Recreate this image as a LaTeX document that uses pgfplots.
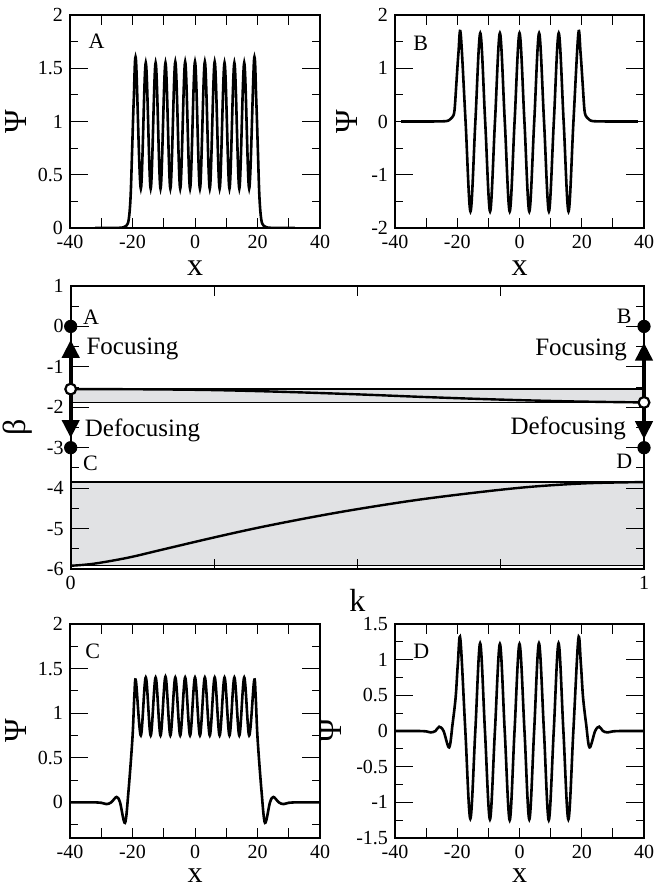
\documentclass[border=0pt]{standalone}
\usepackage{fontspec}
\setmainfont{Liberation Serif}
\usepackage{pgfplots}
\pgfplotsset{compat=1.18}
\usetikzlibrary{arrows.meta}
\definecolor{band}{HTML}{E1E2E4}

\pgfplotsset{
  frame/.style={scale only axis, anchor=south west,
    axis line style={line width=1pt},
    every tick/.style={black, line width=0.5pt},
    major tick length=9pt, minor tick length=4pt,
    xtick style={/pgfplots/major tick length=5pt},
    tick label style={font=\fontsize{10}{11}\selectfont},
    label style={font=\fontsize{16}{18}\selectfont, inner sep=0pt},
    minor y tick num=1,
  },
  panel/.style={frame, width=125pt, height=106.5pt, xmin=-40, xmax=40,
    xtick={-40,-30,...,40}, xticklabels={-40,,-20,,0,,20,,40},
    xlabel={x}, ylabel={Ψ},
    xlabel style={at={(axis description cs:0.5,-0.188)}, anchor=center},
  },
  bottomx/.style={xlabel style={at={(axis description cs:0.5,-0.178)},
    font=\fontsize{15}{16}\selectfont}},
  curve/.style={black, line width=1.3pt, smooth, tension=0.55, no markers},
}
\tikzset{tag/.style={font=\fontsize{11}{12}\selectfont, anchor=west, inner sep=0pt},
  note/.style={font=\fontsize{12.5}{14}\selectfont, anchor=west, inner sep=0pt}}

\begin{document}
\begin{tikzpicture}
\useasboundingbox (0,0) rectangle (326.5pt,443.5pt);

% ---- A ----
\begin{axis}[panel, at={(35pt,329.5pt)}, ymin=0, ymax=2,
  ytick={0,0.5,1,1.5,2}, yticklabels={0,0.5,1,1.5,2},
  ylabel style={at={(axis description cs:-0.215,0.5)}, anchor=center}]
\addplot[curve] coordinates {
 (-32,0) (-26,0) (-23,0.005) (-22,0.02) (-21.2,0.08) (-20.6,0.3) (-20.1,0.75) (-19.6,1.2) (-18.9,1.58)
 (-17.33,0.37) (-15.75,1.55) (-14.18,0.37) (-12.6,1.55) (-11.03,0.37) (-9.45,1.55) (-7.88,0.37)
 (-6.3,1.56) (-4.73,0.37) (-3.15,1.56) (-1.58,0.37) (0,1.56) (1.58,0.37) (3.15,1.56) (4.73,0.37)
 (6.3,1.56) (7.88,0.37) (9.45,1.55) (11.03,0.37) (12.6,1.55) (14.18,0.37) (15.75,1.55) (17.33,0.37)
 (18.9,1.58) (19.6,1.2) (20.1,0.75) (20.6,0.3) (21.2,0.08) (22,0.02) (23,0.005) (26,0) (32,0)};
\node[tag] at (axis cs:-34.2,1.75) {A};
\end{axis}

% ---- B ----
\begin{axis}[panel, at={(197.5pt,329.5pt)}, width=124.5pt, ymin=-2, ymax=2,
  ytick={-2,-1,0,1,2}, yticklabels={-2,-1,0,1,2},
  ylabel style={at={(axis description cs:-0.193,0.5)}, anchor=center}]
\addplot[curve] coordinates {
 (-38,0) (-30,0) (-24,0.005) (-22.5,0.03) (-21.6,0.08) (-20.9,0.2) (-20.3,0.7) (-19.6,1.3) (-18.9,1.65)
 (-17.33,0) (-15.75,-1.69) (-14.18,0) (-12.6,1.66) (-11.03,0) (-9.45,-1.69) (-7.88,0)
 (-6.3,1.66) (-4.73,0) (-3.15,-1.69) (-1.58,0) (0,1.66) (1.58,0) (3.15,-1.69) (4.73,0)
 (6.3,1.66) (7.88,0) (9.45,-1.69) (11.03,0) (12.6,1.66) (14.18,0) (15.75,-1.69) (17.33,0)
 (18.9,1.65) (19.6,1.3) (20.3,0.7) (20.9,0.2) (21.6,0.08) (22.5,0.03) (24,0.005) (30,0) (38,0)};
\node[tag] at (axis cs:-34.2,1.47) {B};
\end{axis}

% ---- beta(k) ----
\begin{axis}[frame, at={(35.35pt,159pt)}, width=286.65pt, height=141.5pt,
  xmin=0, xmax=1, ymin=-6, ymax=1, clip=false, axis on top,
  xtick={0,0.25,0.5,0.75,1}, xticklabels={0,,,,1},
  ytick={-6,-5,...,1}, yticklabels={-6,-5,-4,-3,-2,-1,0,1},
  xlabel={k}, ylabel={β},
  xlabel style={at={(axis description cs:0.5,-0.11)}, anchor=center},
  ylabel style={at={(axis description cs:-0.093,0.5)}, anchor=center}]
\addplot[fill=band, draw=black, line width=0.6pt] coordinates {(0,-1.55) (1,-1.55) (1,-1.875) (0,-1.875)} -- cycle;
\addplot[fill=band, draw=black, line width=0.6pt] coordinates {(0,-3.85) (1,-3.85) (1,-5.92) (0,-5.92)} -- cycle;
\addplot[curve, line width=1.2pt] coordinates {
 (0,-1.55) (0.125,-1.555) (0.25,-1.575) (0.375,-1.62) (0.5,-1.68) (0.625,-1.75) (0.75,-1.81) (0.875,-1.855) (1,-1.88)};
\addplot[curve, line width=1.2pt] coordinates {
 (0,-5.92) (0.04,-5.87) (0.1,-5.72) (0.16,-5.52) (0.25,-5.22) (0.33,-4.97) (0.42,-4.72) (0.5,-4.52)
 (0.6,-4.30) (0.7,-4.12) (0.8,-3.97) (0.9,-3.88) (1,-3.85)};
% arrows
\addplot[line width=2pt, -{Triangle[width=8.5pt,length=9pt]}] coordinates {(0,-1.55) (0,-0.33)};
\addplot[line width=2pt, -{Triangle[width=8.5pt,length=9pt]}] coordinates {(0,-1.55) (0,-2.76)};
\addplot[line width=2pt, -{Triangle[width=8.5pt,length=9pt]}] coordinates {(1,-1.88) (1,-0.40)};
\addplot[line width=2pt, -{Triangle[width=8.5pt,length=9pt]}] coordinates {(1,-1.88) (1,-2.79)};
% points
\addplot[only marks, mark=*, mark size=3.1pt, black] coordinates {(0,0) (0,-3) (1,0) (1,-3)};
\addplot[only marks, mark=*, mark size=2.7pt, mark options={fill=white, draw=black, line width=1.1pt}] coordinates {(0,-1.55) (1,-1.88)};
\node[tag] at (axis cs:0.021,0.23) {A};
\node[note] at (axis cs:0.027,-0.56) {Focusing};
\node[note] at (axis cs:0.024,-2.57) {Defocusing};
\node[tag] at (axis cs:0.021,-3.38) {C};
\node[tag, anchor=east] at (axis cs:0.979,0.26) {B};
\node[note, anchor=east] at (axis cs:0.971,-0.58) {Focusing};
\node[note, anchor=east] at (axis cs:0.969,-2.51) {Defocusing};
\node[tag, anchor=east] at (axis cs:0.980,-3.34) {D};
\end{axis}

% ---- C ----
\begin{axis}[panel, bottomx, at={(35pt,24.5pt)}, height=107pt, ymin=-0.4, ymax=2,
  ytick={0,0.5,1,1.5,2}, yticklabels={0,0.5,1,1.5,2},
  minor ytick={-0.25,0.25,0.75,1.25,1.75},
  ylabel style={at={(axis description cs:-0.215,0.5)}, anchor=center}]
\addplot[curve] coordinates {
 (-40,0) (-33,0) (-30,-0.005) (-28.3,-0.02) (-26.8,0.0) (-25.1,0.06) (-24,0.0) (-22.4,-0.23) (-21.3,0.12)
 (-20,0.73) (-19.4,1.2) (-18.9,1.36)
 (-17.33,0.75) (-15.75,1.40) (-14.18,0.75) (-12.6,1.40) (-11.03,0.75) (-9.45,1.41) (-7.88,0.75)
 (-6.3,1.40) (-4.73,0.75) (-3.15,1.40) (-1.58,0.75) (0,1.40) (1.58,0.75) (3.15,1.40) (4.73,0.75)
 (6.3,1.40) (7.88,0.75) (9.45,1.40) (11.03,0.75) (12.6,1.40) (14.18,0.75) (15.75,1.40) (17.33,0.75)
 (18.9,1.36) (19.4,1.2) (20,0.73) (21.3,0.12) (22.4,-0.23) (24,0.0) (25.1,0.06) (26.8,0.0)
 (28.3,-0.02) (30,-0.005) (33,0) (40,0)};
\node[tag] at (axis cs:-35.2,1.69) {C};
\end{axis}

% ---- D ----
\begin{axis}[panel, bottomx, at={(197.5pt,24.5pt)}, width=124.5pt, height=107pt, ymin=-1.5, ymax=1.5,
  ytick={-1.5,-1,...,1.5}, yticklabels={-1.5,-1,-0.5,0,0.5,1,1.5},
  ylabel style={at={(axis description cs:-0.255,0.5)}, anchor=center}]
\addplot[curve] coordinates {
 (-40,0) (-33,0) (-30,-0.005) (-28.5,-0.02) (-27,0) (-25.8,0.06) (-24.4,0) (-22.6,-0.23) (-21.5,0.1)
 (-20.5,0.48) (-19.8,0.95) (-19,1.29)
 (-17.4,0) (-15.8,-1.23) (-14.2,0) (-12.65,1.23) (-11.1,0) (-9.5,-1.24) (-7.9,0) (-6.3,1.22)
 (-4.75,0) (-3.15,-1.25) (-1.6,0) (0,1.22) (1.6,0) (3.15,-1.24) (4.7,0) (6.25,1.23) (7.85,0)
 (9.4,-1.25) (11,0) (12.55,1.23) (14.1,0) (15.7,-1.24) (17.3,0)
 (18.9,1.29) (19.7,0.95) (20.4,0.48) (21.4,0.1) (22.5,-0.23) (24.3,0) (25.6,0.06) (26.8,0)
 (28.3,-0.02) (30,-0.005) (33,0) (40,0)};
\node[tag] at (axis cs:-34.2,1.115) {D};
\end{axis}
\end{tikzpicture}
\end{document}
